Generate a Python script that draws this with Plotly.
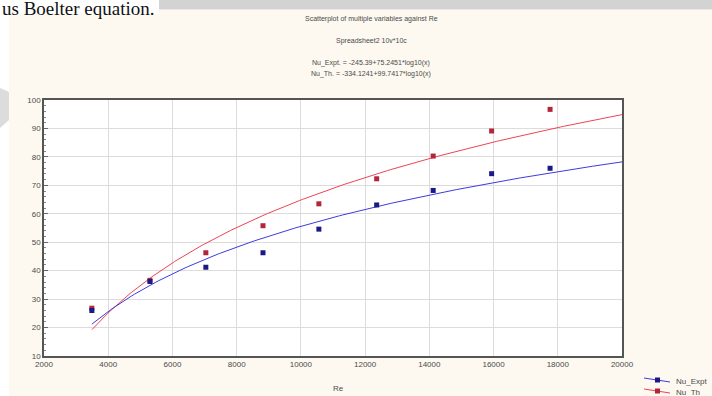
import numpy as np
import plotly.graph_objects as go

# ---- data ----
re_vals = [3490, 5300, 7040, 8820, 10560, 12360, 14120, 15940, 17760]
nu_expt = [26.0, 36.2, 41.2, 46.3, 54.6, 63.1, 68.2, 74.1, 76.0]
nu_th = [26.8, 36.6, 46.3, 55.8, 63.5, 72.3, 80.3, 89.1, 96.7]

# fitted coefficients printed in the chart
fit_expt = [-245.39, 75.2451]
fit_th = [-334.1241, 99.7417]

x_ticks = [2000, 4000, 6000, 8000, 10000, 12000, 14000, 16000, 18000, 20000]
x_tick_text = ["2000", "4000", "6000", "8000", "10000", "12000", "14000", "16000", "18000", "20000"]
y_ticks = [10, 20, 30, 40, 50, 60, 70, 80, 90, 100]

series_names = ["Nu_Expt", "Nu_Th"]

title_lines = [
    "Scatterplot of multiple variables against Re",
    "Spreadsheet2 10v*10c",
    "Nu_Expt. = -245.39+75.2451*log10(x)",
    "Nu_Th. = -334.1241+99.7417*log10(x)",
]

# ---- layout helpers (pixel -> paper) ----
W, H = 712, 396
L, R, T, B = 44, 622, 100, 356


def px(x):
    return (x - L) / (R - L)


def py(y):
    return (B - y) / (B - T)


BLUE_M = "#1a1a86"
RED_M = "#b3263a"
BLUE_L = "#3c3cdc"
RED_L = "#ec4455"
TXT = "#4a4a4a"
FONT = "Liberation Sans"

xf = np.linspace(re_vals[0], 20000, 200)
y_fe = fit_expt[0] + fit_expt[1] * np.log10(xf)
y_ft = fit_th[0] + fit_th[1] * np.log10(xf)

fig = go.Figure()
fig.add_trace(go.Scatter(x=xf, y=y_ft, mode="lines", line=dict(color=RED_L, width=1),
                         showlegend=False, hoverinfo="skip"))
fig.add_trace(go.Scatter(x=xf, y=y_fe, mode="lines", line=dict(color=BLUE_L, width=1),
                         showlegend=False, hoverinfo="skip"))
fig.add_trace(go.Scatter(x=re_vals, y=nu_th, mode="markers", name=series_names[1],
                         marker=dict(symbol="square", size=5, color=RED_M),
                         showlegend=False))
fig.add_trace(go.Scatter(x=re_vals, y=nu_expt, mode="markers", name=series_names[0],
                         marker=dict(symbol="square", size=5, color=BLUE_M),
                         showlegend=False))

axis_common = dict(
    showline=True, linecolor="#555555", linewidth=1.5, mirror=True,
    showgrid=True, gridcolor="#dcdcdc", gridwidth=1, zeroline=False,
    tickfont=dict(family=FONT, size=8, color=TXT),
)

fig.update_xaxes(range=[2000, 20000], tickvals=x_ticks, ticktext=x_tick_text, ticks="",
                 **axis_common)
fig.update_yaxes(range=[10, 100], tickvals=y_ticks, ticks="inside", ticklen=4,
                 tickcolor="#666666",
                 minor=dict(ticks="inside", dtick=2, ticklen=2, tickcolor="#888888", showgrid=False),
                 **axis_common)

annotations = []
ys = [19, 41, 63, 74]
for txt, yy in zip(title_lines, ys):
    annotations.append(dict(x=px(371), y=py(yy), xref="paper", yref="paper", text=txt,
                            showarrow=False, xanchor="center", yanchor="middle",
                            font=dict(family=FONT, size=7, color=TXT)))
annotations.append(dict(x=px(338), y=py(388), xref="paper", yref="paper", text="Re",
                        showarrow=False, xanchor="center", yanchor="middle",
                        font=dict(family=FONT, size=8, color=TXT)))
annotations.append(dict(x=px(0), y=py(8), xref="paper", yref="paper", text="us Boelter equation.",
                        showarrow=False, xanchor="left", yanchor="middle",
                        font=dict(family="Liberation Serif", size=19, color="#111111")))

shapes = [
    # document white strip and grey band on top
    dict(type="rect", xref="paper", yref="paper", x0=px(0), x1=px(W), y0=py(10), y1=py(0),
         fillcolor="white", line=dict(width=0), layer="below"),
    dict(type="rect", xref="paper", yref="paper", x0=px(0), x1=px(159), y0=py(14), y1=py(0),
         fillcolor="white", line=dict(width=0), layer="below"),
    dict(type="rect", xref="paper", yref="paper", x0=px(159), x1=px(W), y0=py(9.5), y1=py(0),
         fillcolor="#d3d3d3", line=dict(width=0), layer="below"),
    # left white margin of the document
    dict(type="rect", xref="paper", yref="paper", x0=px(0), x1=px(9), y0=py(H), y1=py(10),
         fillcolor="white", line=dict(width=0), layer="below"),
    dict(type="path", xref="paper", yref="paper",
         path=f"M {px(0)},{py(88)} L {px(9)},{py(92)} L {px(9)},{py(120)} L {px(0)},{py(128)} Z",
         fillcolor="#dcdcdc", line=dict(width=0), layer="below"),
]

# manual legend (bottom-right, partly cut like the reference)
leg_rows = [(series_names[0], BLUE_L, BLUE_M, 380), (series_names[1], RED_L, RED_M, 391)]
for name, lc, mc, yy in leg_rows:
    shapes.append(dict(type="line", xref="paper", yref="paper",
                       x0=px(644), x1=px(670), y0=py(yy - 2), y1=py(yy + 2),
                       line=dict(color=lc, width=1)))
    shapes.append(dict(type="rect", xref="paper", yref="paper",
                       x0=px(655), x1=px(660), y0=py(yy + 2.5), y1=py(yy - 2.5),
                       fillcolor=mc, line=dict(width=0)))
    annotations.append(dict(x=px(674), y=py(yy + 1), xref="paper", yref="paper", text=name,
                            showarrow=False, xanchor="left", yanchor="middle",
                            font=dict(family=FONT, size=8, color=TXT)))

fig.update_layout(
    width=W, height=H,
    margin=dict(l=L, r=W - R, t=T, b=H - B, pad=0, autoexpand=False),
    paper_bgcolor="#fdf9f1", plot_bgcolor="white",
    showlegend=False,
    annotations=annotations, shapes=shapes,
)

fig.write_html("out.html")
